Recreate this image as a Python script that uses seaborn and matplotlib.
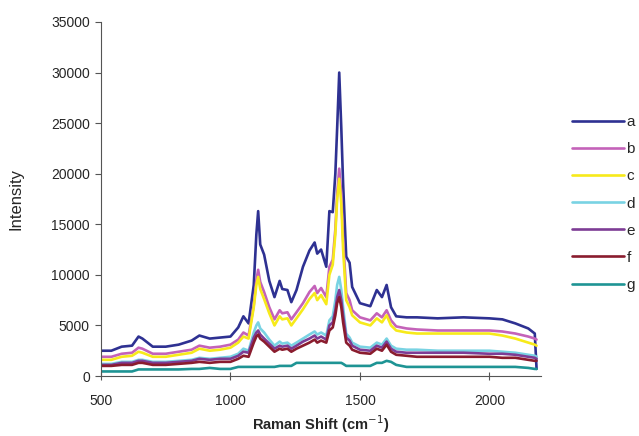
import matplotlib
matplotlib.use("Agg")
import matplotlib.pyplot as plt
import pandas as pd
import seaborn as sns

# Raman shift positions (cm^-1)
shift = [500, 540, 580, 620, 645, 660, 700, 750, 800, 850, 880, 920, 960, 1000,
         1030, 1050, 1070, 1090, 1100, 1107, 1115, 1130, 1150, 1170, 1190, 1200,
         1220, 1235, 1255, 1280, 1305, 1325, 1335, 1350, 1370, 1382, 1395, 1405,
         1412, 1420, 1428, 1435, 1447, 1460, 1470, 1500, 1540, 1565, 1585, 1603,
         1620, 1640, 1680, 1720, 1800, 1900, 2000, 2050, 2100, 2150, 2175, 2182]

a = [2500, 2500, 2900, 3000, 3900, 3700, 2900, 2900, 3100, 3500, 4000, 3700, 3800, 3900,
     4800, 5900, 5200, 9000, 14000, 16300, 13000, 12000, 9400, 7800, 9400, 8600,
     8500, 7300, 8500, 10800, 12400, 13200, 12100, 12500, 10800, 16300, 16200, 20000,
     24500, 30000, 24500, 19000, 11800, 11200, 8800, 7200, 6900, 8500, 7800, 9000,
     6800, 5900, 5800, 5800, 5700, 5800, 5700, 5600, 5200, 4700, 4200, 700]
b = [1900, 1900, 2200, 2300, 2800, 2700, 2200, 2200, 2400, 2600, 3000, 2800, 2900, 3100,
     3600, 4300, 4000, 7000, 9500, 10500, 9300, 8300, 6800, 5600, 6500, 6200,
     6300, 5600, 6300, 7200, 8300, 8900, 8200, 8700, 7800, 10800, 11500, 14500,
     18000, 20500, 18000, 13500, 8200, 7500, 6500, 5800, 5500, 6200, 5800, 6500,
     5500, 4900, 4700, 4600, 4500, 4500, 4500, 4400, 4200, 3900, 3700, 3600]
c = [1600, 1600, 1900, 2000, 2400, 2300, 1900, 1900, 2100, 2300, 2700, 2500, 2600, 2800,
     3300, 3900, 3700, 6800, 9000, 9800, 8600, 7600, 6200, 5000, 5900, 5600,
     5700, 5000, 5700, 6600, 7600, 8200, 7500, 8000, 7100, 10000, 11000, 14000,
     17500, 19500, 17000, 12500, 7500, 6800, 6000, 5300, 5000, 5700, 5300, 6000,
     5000, 4500, 4300, 4200, 4200, 4200, 4200, 4000, 3700, 3300, 3100, 3000]
d = [1200, 1200, 1400, 1400, 1600, 1600, 1400, 1400, 1500, 1600, 1800, 1700, 1800, 1900,
     2200, 2700, 2500, 4300, 5000, 5300, 4700, 4300, 3600, 3000, 3400, 3200,
     3300, 3000, 3300, 3700, 4100, 4400, 4100, 4300, 4000, 5500, 5900, 7500,
     9000, 9800, 8500, 6800, 4200, 3800, 3300, 2900, 2800, 3300, 3100, 3700,
     3000, 2700, 2600, 2600, 2500, 2500, 2500, 2400, 2300, 2100, 2000, 1900]
e = [1100, 1100, 1300, 1300, 1500, 1500, 1300, 1300, 1400, 1500, 1700, 1600, 1700, 1700,
     2000, 2400, 2300, 3800, 4300, 4500, 4100, 3700, 3200, 2700, 3000, 2900,
     3000, 2700, 3000, 3400, 3700, 4000, 3700, 3900, 3600, 5000, 5300, 6500,
     7800, 8500, 7500, 6000, 3800, 3500, 3000, 2600, 2500, 3000, 2800, 3400,
     2700, 2400, 2300, 2300, 2300, 2300, 2200, 2200, 2100, 1900, 1800, 1700]
f = [1000, 1000, 1100, 1100, 1300, 1300, 1100, 1100, 1200, 1300, 1400, 1300, 1400, 1400,
     1700, 2000, 1900, 3300, 3900, 4100, 3700, 3400, 2900, 2400, 2700, 2600,
     2700, 2400, 2700, 3000, 3300, 3600, 3300, 3500, 3300, 4500, 4800, 6000,
     7200, 7800, 6800, 5300, 3300, 3000, 2600, 2300, 2200, 2700, 2500, 3100,
     2400, 2100, 2000, 1900, 1900, 1900, 1900, 1800, 1800, 1600, 1500, 1500]
g = [450, 450, 450, 450, 650, 650, 650, 650, 650, 700, 700, 800, 700, 700,
     900, 900, 900, 900, 900, 900, 900, 900, 900, 900, 1000, 1000,
     1000, 1000, 1300, 1300, 1300, 1300, 1300, 1300, 1300, 1300, 1300, 1300,
     1300, 1300, 1300, 1200, 1000, 1000, 1000, 1000, 1000, 1300, 1300, 1500,
     1400, 1100, 900, 900, 900, 900, 900, 900, 900, 800, 700, 700]

labels = ["a", "b", "c", "d", "e", "f", "g"]
colors = ["#2E3192", "#C462B9", "#F7EA1A", "#79D3E3", "#7D3C95", "#8A1C2E", "#1E9494"]

df = pd.DataFrame({"shift": shift, "a": a, "b": b, "c": c, "d": d,
                   "e": e, "f": f, "g": g})
df = df.melt(id_vars="shift", var_name="sample", value_name="intensity")

sns.set_style("ticks")
plt.rcParams["font.family"] = ["Liberation Sans", "DejaVu Sans"]

fig = plt.figure(figsize=(6.39, 4.36), dpi=100)
ax = fig.add_axes([0.158, 0.1376, 0.689, 0.812])

sns.lineplot(ax=ax, data=df, x="shift", y="intensity", hue="sample",
             hue_order=labels, palette=colors, linewidth=1.9, legend=False)

ax.set_xlim(500, 2200)
ax.set_ylim(0, 35000)
ax.set_xticks([500, 1000, 1500, 2000])
ax.set_yticks(range(0, 35001, 5000))
ax.tick_params(axis="x", direction="inout", length=6, labelsize=10, pad=10,
               width=0.8, color="#555555")
ax.tick_params(axis="y", direction="out", length=4, labelsize=10, pad=4,
               width=0.8, color="#555555")
for s in ["left", "bottom"]:
    ax.spines[s].set_color("#555555")
    ax.spines[s].set_linewidth(0.8)
sns.despine(ax=ax)

ax.set_xlabel("Raman Shift (cm$^{-1}$)", fontsize=10.5, fontweight="bold", labelpad=4)
ax.set_ylabel("Intensity", fontsize=12, labelpad=20)

handles = [plt.Line2D([], [], color=col, lw=1.9) for col in colors]
ax.legend(handles, labels, loc="upper left", bbox_to_anchor=(1.07, 0.737),
          frameon=False, handlelength=3.4, handletextpad=0.15,
          labelspacing=0.86, fontsize=11, borderpad=0, borderaxespad=0)

fig.savefig("out.png", dpi=100)
